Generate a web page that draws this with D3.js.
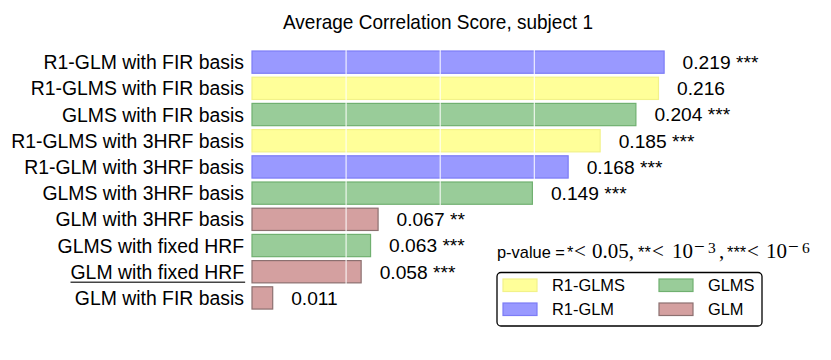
<!DOCTYPE html>
<html>
<head>
<meta charset="utf-8">
<script src="https://cdn.jsdelivr.net/npm/d3@7"></script>
<style>
  html, body { margin: 0; padding: 0; background: #fff; }
  svg { display: block; }
</style>
</head>
<body>
<svg id="chart" width="831" height="360"></svg>
<script>
// ---- data ----
const categories = [
  "R1-GLM with FIR basis",
  "R1-GLMS with FIR basis",
  "GLMS with FIR basis",
  "R1-GLMS with 3HRF basis",
  "R1-GLM with 3HRF basis",
  "GLMS with 3HRF basis",
  "GLM with 3HRF basis",
  "GLMS with fixed HRF",
  "GLM with fixed HRF",
  "GLM with FIR basis"
];
const values = [0.219, 0.216, 0.204, 0.185, 0.168, 0.149, 0.067, 0.063, 0.058, 0.011];
const methods = ["R1-GLM", "R1-GLMS", "GLMS", "R1-GLMS", "R1-GLM", "GLMS", "GLM", "GLMS", "GLM", "GLM"];
const stars = ["***", "", "***", "***", "***", "***", "**", "***", "***", ""];
const legendOrder = ["R1-GLMS", "R1-GLM", "GLMS", "GLM"];
const xTicks = [0.05, 0.10, 0.15];
const title = "Average Correlation Score, subject 1";

const fills = { "R1-GLM": "#9999ff", "R1-GLMS": "#ffff99", "GLMS": "#99cc99", "GLM": "#d4a0a0" };
const edges = { "R1-GLM": "#7c7cf6", "R1-GLMS": "#f2f28a", "GLMS": "#70b070", "GLM": "#8c7070" };

const svg = d3.select("#chart");
const sans = "'Liberation Sans', Arial, Helvetica, sans-serif";
const serif = "'Liberation Serif', 'DejaVu Serif', serif";

const x = d3.scaleLinear().domain([0, 0.198]).range([252, 624.6]);
const y = d3.scaleBand().domain(categories).range([49.03, 49.03 + 262])
  .paddingInner(0.15).paddingOuter(0.075);

// title
svg.append("text")
  .attr("x", 283)
  .attr("y", 28.5)
  .attr("font-family", sans)
  .attr("font-size", 21)
  .attr("textLength", 310)
  .attr("lengthAdjust", "spacingAndGlyphs")
  .attr("fill", "#000")
  .text(title);

// bars
svg.append("g").selectAll("rect")
  .data(categories)
  .join("rect")
  .attr("x", x(0))
  .attr("y", d => y(d))
  .attr("width", (d, i) => x(values[i]) - x(0))
  .attr("height", y.bandwidth())
  .attr("fill", (d, i) => fills[methods[i]])
  .attr("stroke", (d, i) => edges[methods[i]])
  .attr("stroke-width", 1.2);

// gridlines (white, over bars)
svg.append("g").selectAll("line")
  .data(xTicks)
  .join("line")
  .attr("x1", d => x(d)).attr("x2", d => x(d))
  .attr("y1", y.range()[0]).attr("y2", y.range()[1])
  .attr("stroke", "#fff")
  .attr("stroke-width", 1);

// category labels
const labels = svg.append("g").selectAll("text")
  .data(categories)
  .join("text")
  .attr("x", 244)
  .attr("y", d => y(d) + y.bandwidth() / 2)
  .attr("dy", "0.36em")
  .attr("text-anchor", "end")
  .attr("font-family", sans)
  .attr("font-size", 19.4)
  .attr("fill", "#000")
  .text(d => d);

// underline for "GLM with fixed HRF"
labels.filter(d => d === "GLM with fixed HRF").each(function(d) {
  const bb = this.getBBox();
  svg.append("line")
    .attr("x1", bb.x).attr("x2", bb.x + bb.width + 1)
    .attr("y1", y(d) + y.bandwidth() / 2 + 10.5)
    .attr("y2", y(d) + y.bandwidth() / 2 + 10.5)
    .attr("stroke", "#444")
    .attr("stroke-width", 1.3);
});

// value labels
svg.append("g").selectAll("text")
  .data(categories)
  .join("text")
  .attr("x", (d, i) => x(values[i]) + 18.5)
  .attr("y", d => y(d) + y.bandwidth() / 2)
  .attr("dy", "0.36em")
  .attr("font-family", sans)
  .attr("font-size", 19.2)
  .attr("fill", "#000")
  .text((d, i) => values[i].toFixed(3) + (stars[i] ? " " + stars[i] : ""));

// p-value note
const pvPieces = [
  { t: "p-value =", x: 497, f: sans, s: 16.4, b: 258 },
  { t: "*", x: 567, f: sans, s: 16.4, b: 258 },
  { t: "<", x: 574, f: serif, s: 21, b: 258 },
  { t: "0.05,", x: 592, f: serif, s: 21, b: 258 },
  { t: "**", x: 638, f: sans, s: 16.4, b: 258 },
  { t: "<", x: 652, f: serif, s: 21, b: 258 },
  { t: "10", x: 672, f: serif, s: 21, b: 258 },
  { t: "\u2212", x: 694, f: serif, s: 19, b: 252.5 },
  { t: "3", x: 708, f: serif, s: 15.5, b: 252.5 },
  { t: ",", x: 719, f: serif, s: 21, b: 258 },
  { t: "***", x: 727, f: sans, s: 16.4, b: 258 },
  { t: "<", x: 747, f: serif, s: 21, b: 258 },
  { t: "10", x: 766, f: serif, s: 21, b: 258 },
  { t: "\u2212", x: 788, f: serif, s: 19, b: 252.5 },
  { t: "6", x: 802, f: serif, s: 15.5, b: 252.5 }
];
const pv = svg.append("text").attr("fill", "#000");
pv.selectAll("tspan")
  .data(pvPieces)
  .join("tspan")
  .attr("x", d => d.x)
  .attr("y", d => d.b)
  .attr("font-family", d => d.f)
  .attr("font-size", d => d.s)
  .text(d => d.t);

// legend
const lg = svg.append("g");
lg.append("rect")
  .attr("x", 497).attr("y", 272.5).attr("width", 265).attr("height", 53.5)
  .attr("rx", 4).attr("ry", 4)
  .attr("fill", "#fff").attr("stroke", "#000").attr("stroke-width", 1.3);
const items = lg.selectAll("g.item")
  .data(legendOrder)
  .join("g")
  .attr("class", "item")
  .attr("transform", (d, i) => `translate(${503 + Math.floor(i / 2) * 156},${279 + (i % 2) * 24})`);
items.append("rect")
  .attr("width", 34).attr("height", 12.5)
  .attr("fill", d => fills[d]).attr("stroke", d => edges[d]).attr("stroke-width", 1.2);
items.append("text")
  .attr("x", 49).attr("y", 6.25).attr("dy", "0.36em")
  .attr("font-family", sans).attr("font-size", 16.4).attr("fill", "#000")
  .text(d => d);
</script>
</body>
</html>
